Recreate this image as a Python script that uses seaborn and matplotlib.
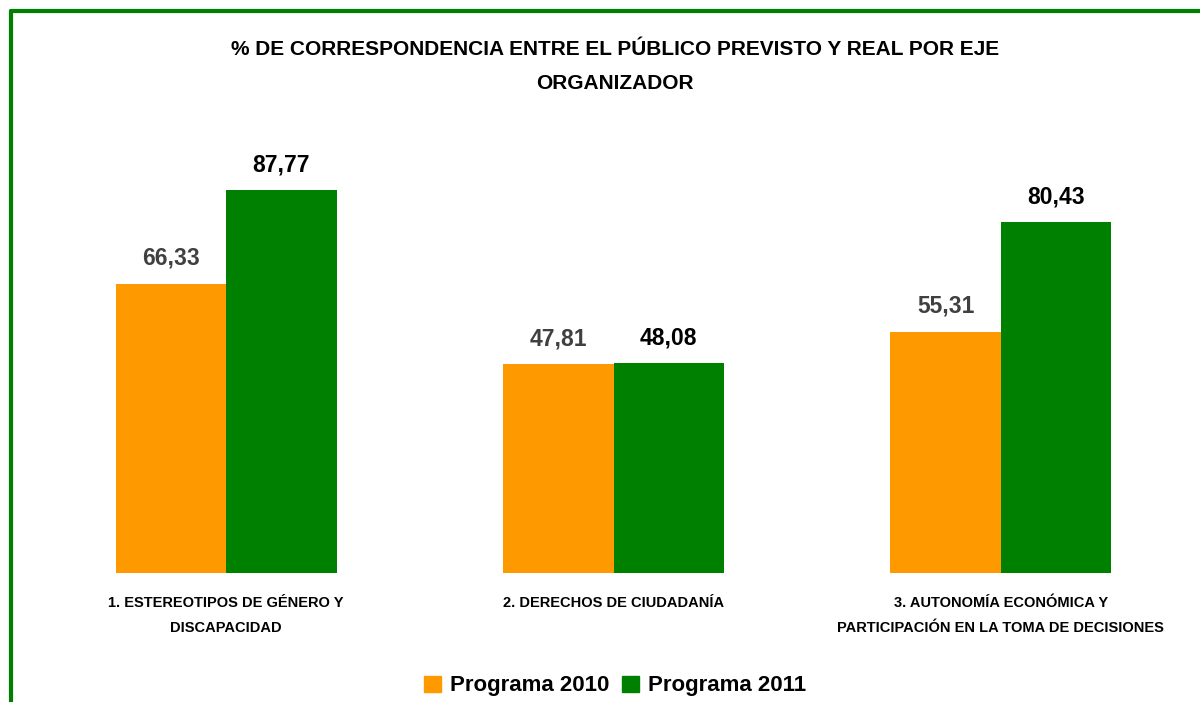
import matplotlib
matplotlib.use("Agg")
import matplotlib.pyplot as plt
import seaborn as sns
import pandas as pd
from matplotlib.patches import Rectangle

categories = ["1. ESTEREOTIPOS DE GÉNERO Y\nDISCAPACIDAD",
              "2. DERECHOS DE CIUDADANÍA",
              "3. AUTONOMÍA ECONÓMICA Y\nPARTICIPACIÓN EN LA TOMA DE DECISIONES"]
series_names = ["Programa 2010", "Programa 2011"]
values_2010 = [66.33, 47.81, 55.31]
values_2011 = [87.77, 48.08, 80.43]
title = "% DE CORRESPONDENCIA ENTRE EL PÚBLICO PREVISTO Y REAL POR EJE\nORGANIZADOR"

colors = ["#FF9900", "#008000"]
label_colors = ["#404040", "#000000"]

df = pd.DataFrame({
    "cat": categories * 2,
    "serie": [series_names[0]] * 3 + [series_names[1]] * 3,
    "val": values_2010 + values_2011,
})

sns.set_theme(style="white")
plt.rcParams["font.family"] = ["Liberation Sans", "DejaVu Sans"]
plt.rcParams["text.color"] = "black"

fig = plt.figure(figsize=(12, 7.02), dpi=100)
ax = fig.add_axes([32.5 / 1200, (702 - 573) / 702, (1194.5 - 32.5) / 1200, 436.4 / 702])

sns.barplot(data=df, x="cat", y="val", hue="serie", palette=colors,
            width=0.571, gap=0, ax=ax, legend=False, saturation=1,
            linewidth=0, edgecolor="none")

ax.set_ylim(0, 100)
ax.set_xlim(-0.5, 2.5)
for s in ax.spines.values():
    s.set_visible(False)
ax.set_yticks([])
ax.set_xlabel("")
ax.set_ylabel("")
ax.set_xticks([])

for i, cont in enumerate(ax.containers):
    labels = [f"{v:.2f}".replace(".", ",") for v in cont.datavalues]
    ax.bar_label(cont, labels=labels, padding=10, fontsize=16.5,
                 fontweight="bold", color=label_colors[i])

for i, c in enumerate(categories):
    ax.text(i, -5.3, c, ha="center", va="top", fontsize=10.5,
            fontweight="bold", linespacing=1.95, color="black",
            transform=ax.transData)

fig.text(615 / 1200, 1 - 66.5 / 702, title, ha="center", va="center",
         fontsize=15, fontweight="bold", linespacing=2.05, color="black")

# legend
handles = [Rectangle((0, 0), 1, 1, color=c) for c in colors]
leg = fig.legend(handles, series_names, loc="center", bbox_to_anchor=(615 / 1200, 1 - 686 / 702),
                 ncol=2, frameon=False, prop={"weight": "bold", "size": 16},
                 handlelength=0.75, handleheight=0.75, handletextpad=0.4, columnspacing=0.6)
for t in leg.get_texts():
    t.set_color("black")

# green frame (left and top)
fig.add_artist(plt.Line2D([11 / 1200, 11 / 1200], [0, 1 - 11 / 702],
                          transform=fig.transFigure, color="#008000", lw=3))
fig.add_artist(plt.Line2D([11 / 1200, 1], [1 - 11 / 702, 1 - 11 / 702],
                          transform=fig.transFigure, color="#008000", lw=3))

fig.savefig("out.png", dpi=100, facecolor="white")
